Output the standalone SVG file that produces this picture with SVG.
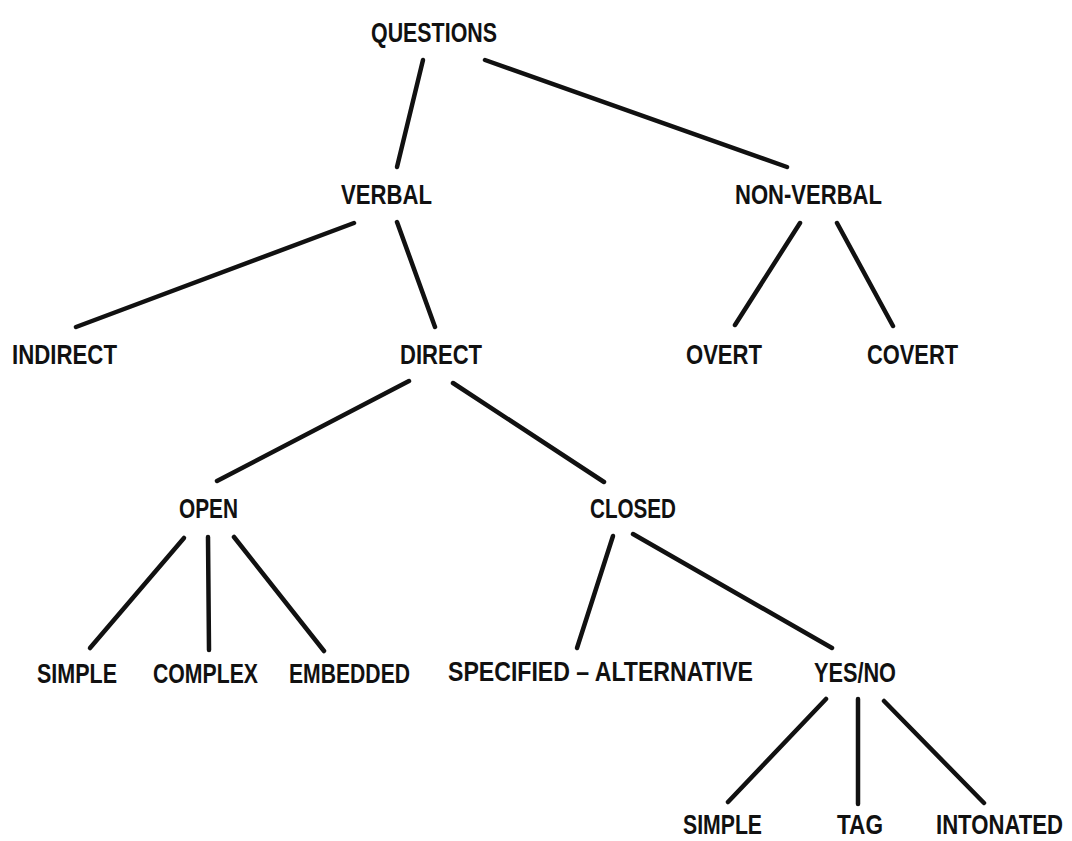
<svg xmlns="http://www.w3.org/2000/svg" width="1072" height="841" viewBox="0 0 1072 841">
<style>
.t{font-family:"Liberation Sans",Arial,sans-serif;font-weight:bold;font-size:28px;fill:#111}
.c line{stroke:#111;stroke-width:4.5;stroke-linecap:round}
</style>
<rect width="1072" height="841" fill="#fff"/>
<g class="c" id="connectors">
<line x1="423" y1="60" x2="397" y2="167"/>
<line x1="485" y1="60" x2="787" y2="167"/>
<line x1="354" y1="223" x2="76" y2="327"/>
<line x1="397" y1="222" x2="435" y2="327"/>
<line x1="800" y1="223" x2="735" y2="325"/>
<line x1="837" y1="223" x2="893" y2="326"/>
<line x1="409" y1="381" x2="217" y2="481"/>
<line x1="453" y1="383" x2="604" y2="482"/>
<line x1="184" y1="538" x2="90" y2="648"/>
<line x1="208" y1="537" x2="209" y2="650"/>
<line x1="234" y1="537" x2="324" y2="651"/>
<line x1="613" y1="536" x2="577" y2="648"/>
<line x1="633" y1="534" x2="832" y2="648"/>
<line x1="826" y1="699" x2="728" y2="802"/>
<line x1="858" y1="699" x2="858" y2="804"/>
<line x1="884" y1="701" x2="984" y2="803"/>
</g>
<g id="questions"><text class="t" x="371" y="42" textLength="126" lengthAdjust="spacingAndGlyphs">QUESTIONS</text></g>
<g id="verbal"><text class="t" x="341" y="204" textLength="91" lengthAdjust="spacingAndGlyphs">VERBAL</text></g>
<g id="nonverbal"><text class="t" x="735" y="204" textLength="147" lengthAdjust="spacingAndGlyphs">NON-VERBAL</text></g>
<g id="indirect"><text class="t" x="12" y="364" textLength="105" lengthAdjust="spacingAndGlyphs">INDIRECT</text></g>
<g id="direct"><text class="t" x="400" y="364" textLength="82" lengthAdjust="spacingAndGlyphs">DIRECT</text></g>
<g id="overt"><text class="t" x="686" y="364" textLength="76" lengthAdjust="spacingAndGlyphs">OVERT</text></g>
<g id="covert"><text class="t" x="867" y="364" textLength="91" lengthAdjust="spacingAndGlyphs">COVERT</text></g>
<g id="open"><text class="t" x="179" y="518" textLength="59" lengthAdjust="spacingAndGlyphs">OPEN</text></g>
<g id="closed"><text class="t" x="590" y="518" textLength="86" lengthAdjust="spacingAndGlyphs">CLOSED</text></g>
<g id="simple1"><text class="t" x="37" y="683" textLength="80" lengthAdjust="spacingAndGlyphs">SIMPLE</text></g>
<g id="complex"><text class="t" x="153" y="683" textLength="105" lengthAdjust="spacingAndGlyphs">COMPLEX</text></g>
<g id="embedded"><text class="t" x="289" y="683" textLength="121" lengthAdjust="spacingAndGlyphs">EMBEDDED</text></g>
<g id="specalt"><text class="t" x="448" y="681" textLength="305" lengthAdjust="spacingAndGlyphs">SPECIFIED – ALTERNATIVE</text></g>
<g id="yesno"><text class="t" x="814" y="682" textLength="82" lengthAdjust="spacingAndGlyphs">YES/NO</text></g>
<g id="simple2"><text class="t" x="683" y="834" textLength="79" lengthAdjust="spacingAndGlyphs">SIMPLE</text></g>
<g id="tag"><text class="t" x="837" y="834" textLength="46" lengthAdjust="spacingAndGlyphs">TAG</text></g>
<g id="intonated" transform="translate(936,834) scale(0.79,1)"><text class="t" x="0" y="0">INTONATED</text></g>
</svg>
